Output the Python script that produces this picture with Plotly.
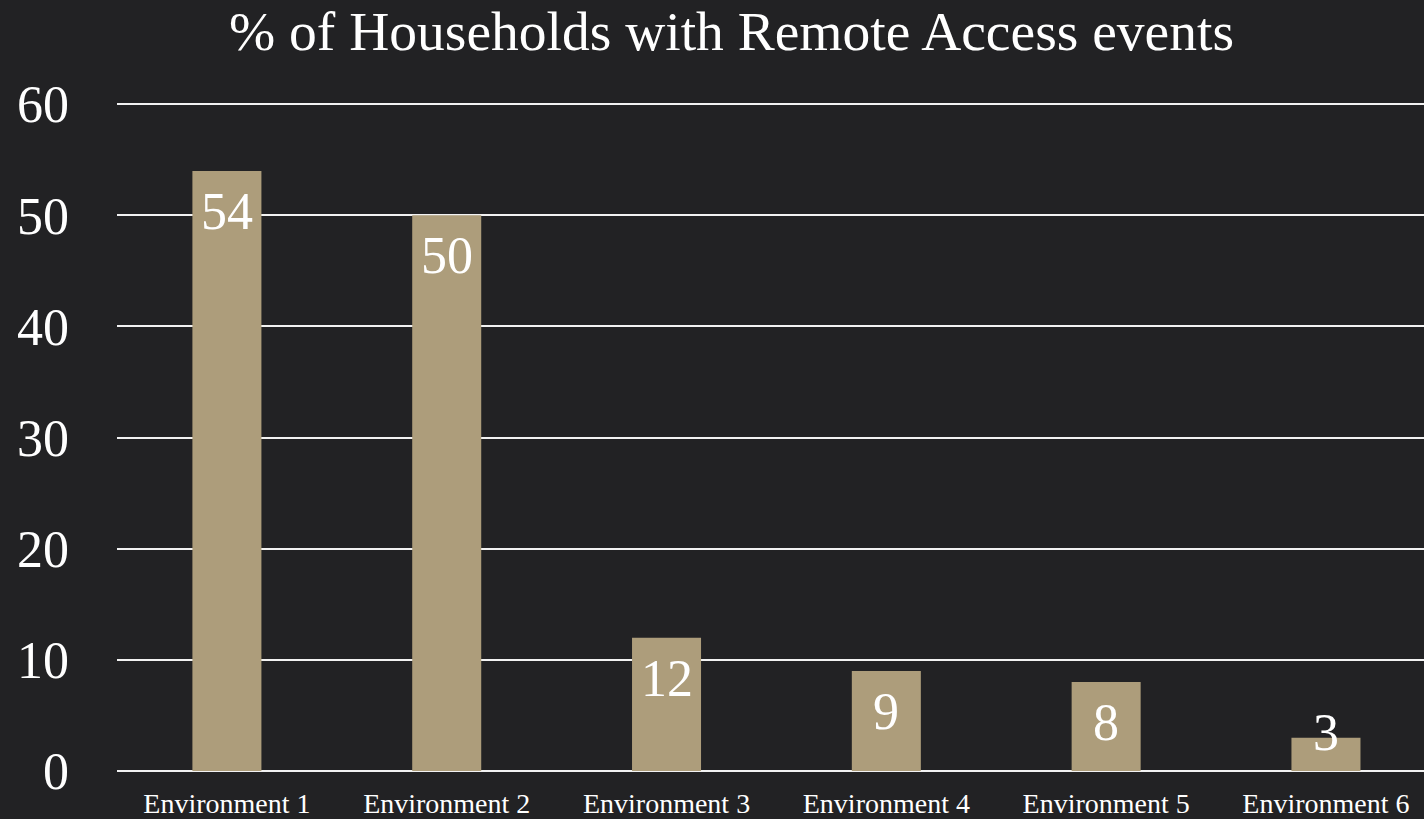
import plotly.graph_objects as go

# Share of households that saw remote-access events, per environment
categories = ["Environment 1", "Environment 2", "Environment 3",
              "Environment 4", "Environment 5", "Environment 6"]
pct_households = [54, 50, 12, 9, 8, 3]
y_ticks = [0, 10, 20, 30, 40, 50, 60]

BG = "#222224"
BAR = "#AD9D7B"
SERIF = "Liberation Serif, Times New Roman, serif"

fig = go.Figure()
fig.add_trace(go.Bar(
    x=list(range(len(categories))),
    y=pct_households,
    width=0.314,
    marker=dict(color=BAR, line=dict(width=0)),
    hoverinfo="skip",
))

# Value labels sit just inside the top of each bar; short bars keep the
# label resting a little above the baseline instead.
LABEL_FLOOR = 7.1
for i, v in enumerate(pct_households):
    fig.add_annotation(
        x=i, y=max(v, LABEL_FLOOR), xref="x", yref="y",
        text=str(v), showarrow=False,
        yanchor="top", xanchor="center", yshift=-10,
        font=dict(family=SERIF, size=52, color="white"),
    )

fig.update_layout(
    width=1424, height=819,
    paper_bgcolor=BG, plot_bgcolor=BG,
    margin=dict(l=117, r=0, t=102, b=48),
    showlegend=False,
    title=dict(
        text="% of Households with Remote Access events",
        x=731.5 / 1424, xanchor="center",
        y=1 - 31 / 819, yanchor="middle", yref="container",
        font=dict(family=SERIF, size=55.5, color="white"),
    ),
    xaxis=dict(
        range=[-0.5, 5.446],
        tickmode="array",
        tickvals=list(range(len(categories))),
        ticktext=categories,
        showgrid=False, showline=False, zeroline=False,
        ticks="", ticklabelstandoff=13,
        tickfont=dict(family=SERIF, size=28, color="white"),
        fixedrange=True,
    ),
    yaxis=dict(
        # a hair above 60 so the top gridline is drawn inside the plot area
        range=[0, 60.2],
        tickmode="array", tickvals=y_ticks,
        ticktext=[str(t) for t in y_ticks],
        showgrid=True, gridcolor="#F2F2F2", gridwidth=1.6,
        zeroline=True, zerolinecolor="#F2F2F2", zerolinewidth=1.6,
        showline=False, ticks="", ticklabelstandoff=47,
        tickfont=dict(family=SERIF, size=52, color="white"),
        fixedrange=True,
    ),
)

fig.write_html("out.html", config={"displayModeBar": False})
